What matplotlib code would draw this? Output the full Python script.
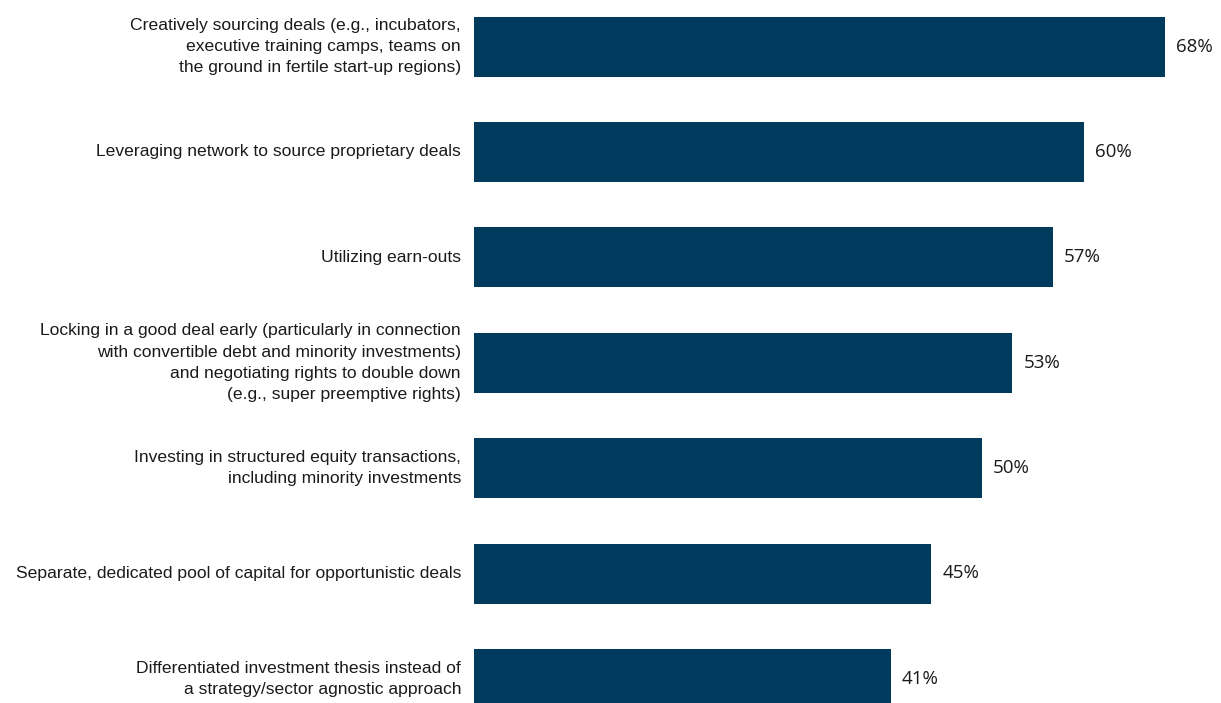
import matplotlib
matplotlib.use("Agg")
import matplotlib.pyplot as plt

categories = [
    "Creatively sourcing deals (e.g., incubators,\nexecutive training camps, teams on\nthe ground in fertile start-up regions)",
    "Leveraging network to source proprietary deals",
    "Utilizing earn-outs",
    "Locking in a good deal early (particularly in connection\nwith convertible debt and minority investments)\nand negotiating rights to double down\n(e.g., super preemptive rights)",
    "Investing in structured equity transactions,\nincluding minority investments",
    "Separate, dedicated pool of capital for opportunistic deals",
    "Differentiated investment thesis instead of\na strategy/sector agnostic approach",
]
values = [68, 60, 57, 53, 50, 45, 41]

W, H = 1221, 703
fig = plt.figure(figsize=(W / 100, H / 100), dpi=100)
left_px = 474
ax = fig.add_axes([left_px / W, 0, 1 - left_px / W, 1])

px_per_pct = 10.16
spacing = 105.4
ax.set_xlim(0, (W - left_px) / px_per_pct)
ax.set_ylim((H - 46.5) / spacing, -46.5 / spacing)

bar_color = "#003a5d"
y = list(range(len(values)))
ax.barh(y, values, height=60 / spacing, color=bar_color, left=0)

label_font = ["Liberation Sans", "DejaVu Sans"]
val_font = ["Open Sans", "DejaVu Sans"]

for yi, cat, v in zip(y, categories, values):
    ax.text(-13 / px_per_pct, yi, cat, ha="right", va="center", fontsize=12.6,
            family=label_font, color="#1a1a1a", linespacing=1.52)
    ax.text(v + 11 / px_per_pct, yi, f"{v}%", ha="left", va="center",
            fontsize=13.5, family=val_font, color="#1a1a1a")

ax.axis("off")
fig.savefig("out.png", dpi=100)
